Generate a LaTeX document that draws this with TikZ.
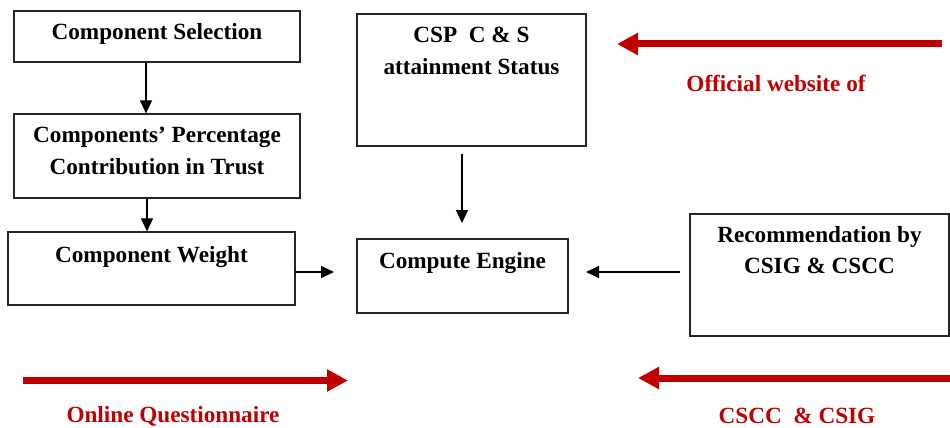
\documentclass[tikz,border=0pt]{standalone}
\usepackage{fontspec}
\setmainfont{Liberation Serif}
\usetikzlibrary{arrows.meta}
\definecolor{dred}{HTML}{C00000}
\begin{document}
\begin{tikzpicture}[x=1pt,y=-1pt,
  box/.style={draw=black!85, line width=1.2pt, minimum width=#1, inner sep=0pt},
  txt/.style={inner sep=0pt, align=center, font=\fontsize{23.2}{31.5}\selectfont\bfseries},
  rtxt/.style={txt, text=dred},
  arr/.style={line width=1.1pt, -{Triangle[length=13pt,width=12pt]}},
  rarr/.style={draw=dred, line width=7pt, -{Triangle[length=21pt,width=21pt]}, shorten >=-1pt}]
\useasboundingbox[fill=white] (0,0) rectangle (950,428);

% boxes
\node[box=286pt, minimum height=51pt] (b1) at (157,36.5) {};
\node[box=286pt, minimum height=84pt] (b2) at (157,156) {};
\node[box=287pt, minimum height=73pt] (b3) at (151.5,268.5) {};
\node[box=229pt, minimum height=132pt] (csp) at (471.5,80) {};
\node[box=211pt, minimum height=74pt] (ce) at (462.5,276) {};
\node[box=259pt, minimum height=122pt] (rec) at (819.5,275) {};

% texts
\node[txt, anchor=base] (t1) at (157,40) {Component Selection};
\node[txt, anchor=north] (t2) at (157,127) {Components’ Percentage\\Contribution in Trust};
\node[txt, anchor=base] (t3) at (151.5,262) {Component Weight};
\node[txt, anchor=north] (tcsp) at (471.5,27) {CSP\ \ C \& S\\attainment Status};
\node[txt, anchor=base] (tce) at (462.5,268) {Compute Engine};
\node[txt, anchor=north] (trec) at (819.5,226) {Recommendation by\\CSIG \& CSCC};
\node[rtxt, anchor=base] (off) at (776,91) {Official website of};
\node[rtxt, anchor=base] (cscc) at (797,423) {CSCC\ \ \& CSIG};
\node[rtxt, anchor=base] (onl) at (173,422) {Online Questionnaire};

% connector coordinates
\coordinate (ceW) at (334,272);
\coordinate (b3E) at (295,272);
\coordinate (cspS) at (462,154);
\coordinate (ceN) at (462,223);
\coordinate (recW) at (680,272);
\coordinate (ceE) at (586,272);
\coordinate (r1s) at (942,44);
\coordinate (r1e) at (618,44);
\coordinate (r2s) at (950,378);
\coordinate (r2e) at (639,378);
\coordinate (r3s) at (23,380.5);
\coordinate (r3e) at (347,380.5);

% black arrows
\draw[arr] ([xshift=-11pt]b1.south) -- ([xshift=-11pt]b2.north);
\draw[arr] ([xshift=-10pt]b2.south) -- ([xshift=-4.5pt]b3.north);
\draw[arr] (b3E) -- (ceW);
\draw[arr] (cspS) -- (ceN);
\draw[arr] (recW) -- (ceE);

% red arrows
\draw[rarr] (r1s) -- (r1e);
\draw[rarr] (r2s) -- (r2e);
\draw[rarr] (r3s) -- (r3e);
\end{tikzpicture}
\end{document}
